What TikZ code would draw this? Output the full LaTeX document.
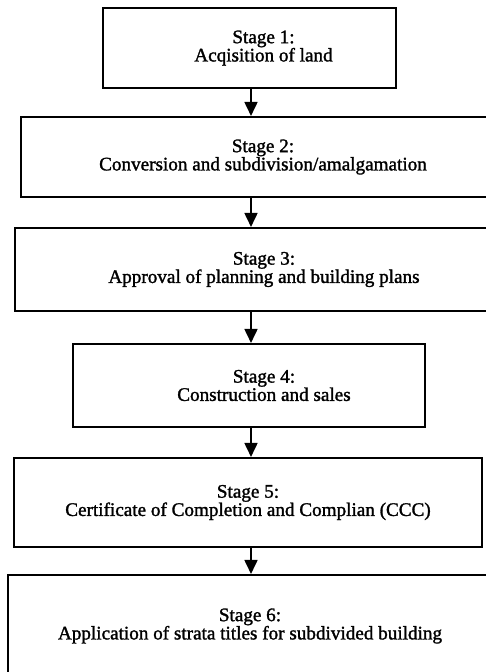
\documentclass[tikz,border=0pt]{standalone}
\usepackage{fontspec}
\setmainfont{Liberation Serif}[FakeBold=1.5]
\usetikzlibrary{arrows.meta}

\begin{document}
\begin{tikzpicture}[x=0.02cm, y=-0.02cm,
    stage/.style={draw, line width=1.2pt, align=center, inner sep=0pt,
      font=\fontsize{10.9}{10.4}\selectfont},
    flow/.style={-{Triangle[width=0.26cm, length=0.28cm]}, line width=1pt}]
    \path[use as bounding box] (0,0) rectangle (486,672);
    \clip (0,0) rectangle (486,672);

    \node(st1) at (249.5,48) [stage, minimum width=5.86cm, minimum height=1.60cm] {\hspace*{0.56cm}Stage 1:\\\hspace*{0.56cm}Acqisition of land};
    \node(st2) at (263,157) [stage, minimum width=9.68cm, minimum height=1.60cm] {Stage 2:\\Conversion and subdivision/amalgamation};
    \node(st3) at (264,269.5) [stage, minimum width=9.96cm, minimum height=1.66cm] {Stage 3:\\Approval of planning and building plans};
    \node(st4) at (249,385.5) [stage, minimum width=7.04cm, minimum height=1.66cm] {\hspace*{0.6cm}Stage 4:\\\hspace*{0.6cm}Construction and sales};
    \node(st5) at (248,502.5) [stage, minimum width=9.36cm, minimum height=1.78cm] {Stage 5:\\Certificate of Completion and Complian (CCC)};
    \node(st6) at (250,626) [stage, minimum width=9.68cm, minimum height=2.04cm] {Stage 6:\\Application of strata titles for subdivided building};

    \coordinate (axis) at (251,0);
    \draw[flow] (st1.south -| axis) -- (st2.north -| axis);
    \draw[flow] (st2.south -| axis) -- (st3.north -| axis);
    \draw[flow] (st3.south -| axis) -- (st4.north -| axis);
    \draw[flow] (st4.south -| axis) -- (st5.north -| axis);
    \draw[flow] (st5.south -| axis) -- (st6.north -| axis);
\end{tikzpicture}
\end{document}
